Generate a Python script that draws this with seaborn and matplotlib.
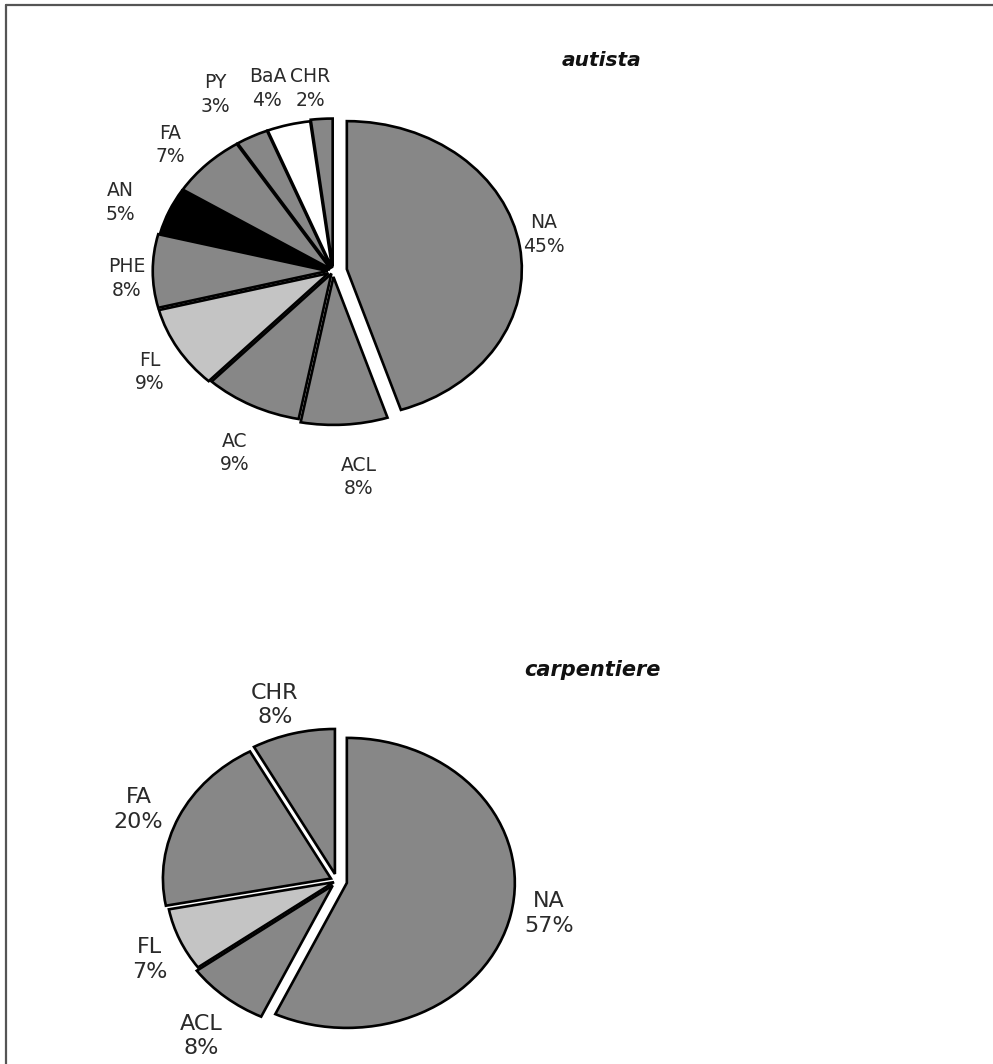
import math
import matplotlib
matplotlib.use("Agg")
import matplotlib.pyplot as plt
from matplotlib.lines import Line2D
import seaborn as sns

sns.set_theme(style="white")
plt.rcParams["font.family"] = ["DejaVu Sans"]

# PAH profile for the driver ("autista")
autista_labels = ["NA", "ACL", "AC", "FL", "PHE", "AN", "FA", "PY", "BaA", "CHR"]
autista_values = [45, 8, 9, 9, 8, 5, 7, 3, 4, 2]

# PAH profile for the carpenter ("carpentiere")
carp_labels = ["NA", "ACL", "FL", "FA", "CHR"]
carp_values = [57, 8, 7, 20, 8]

GRAY = "#878787"
LIGHT = "#c4c4c4"
fill = {"NA": GRAY, "ACL": GRAY, "AC": GRAY, "FL": LIGHT, "PHE": GRAY,
        "AN": "#000000", "FA": GRAY, "PY": GRAY, "BaA": "#ffffff", "CHR": GRAY}

W, H = 993, 1064
fig = plt.figure(figsize=(W / 100, H / 100), dpi=100)
fig.patch.set_facecolor("white")

LIM = 1.45


def pie_axes(cx, cy, rx, ry):
    """Axes whose unit radius spans rx by ry pixels around (cx, cy)."""
    w = 2 * LIM * rx
    h = 2 * LIM * ry
    left = (cx - w / 2) / W
    bottom = (H - (cy + h / 2)) / H
    return fig.add_axes([left, bottom, w / W, h / H])


def draw_pie(ax, labels, values, explode, fontsize, label_r, spacing, turn):
    pcts = [f"{lab}\n{v}%" for lab, v in zip(labels, values)]
    wedges, texts = ax.pie(
        values,
        labels=pcts,
        colors=[fill[l] for l in labels],
        explode=explode,
        startangle=90,
        counterclock=False,
        wedgeprops=dict(edgecolor="black", linewidth=1.9),
        textprops=dict(fontsize=fontsize, color="#2a2a2a"),
    )
    # place each label on its wedge's bisector at its own radial distance
    for w, t, r in zip(wedges, texts, label_r):
        mid = math.radians((w.theta1 + w.theta2) / 2 + turn)
        t.set_position((r * math.cos(mid), r * math.sin(mid)))
        t.set_horizontalalignment("center")
        t.set_verticalalignment("center")
        t.set_linespacing(spacing)
    ax.set_aspect("auto")
    ax.set_xlim(-LIM, LIM)
    ax.set_ylim(-LIM, LIM)
    ax.axis("off")
    return wedges


ax1 = pie_axes(333, 271, 175, 148)
draw_pie(ax1, autista_labels, autista_values,
         [0.08, 0.04, 0.02, 0.03, 0.03, 0.02, 0.02, 0.02, 0.02, 0.03],
         13.5,
         [1.23, 1.40, 1.35, 1.25, 1.18, 1.30, 1.26, 1.37, 1.29, 1.24],
         1.3, 2.5)

ax2 = pie_axes(337, 881, 168, 145)
draw_pie(ax2, carp_labels, carp_values,
         [0.06, 0.04, 0.02, 0.04, 0.05],
         16,
         [1.28, 1.34, 1.24, 1.28, 1.27],
         1.28, 2.5)

fig.text(602 / W, 1 - 60 / H, "autista", fontsize=14.5, fontweight="bold",
         fontstyle="italic", ha="center", va="center", color="#111111")
fig.text(592 / W, 1 - 670 / H, "carpentiere", fontsize=15, fontweight="bold",
         fontstyle="italic", ha="center", va="center", color="#111111")

# frame lines along the top and left edges
fig.add_artist(Line2D([6 / W, 1], [1 - 5 / H, 1 - 5 / H], color="#555555",
                      lw=1.6, transform=fig.transFigure))
fig.add_artist(Line2D([6 / W, 6 / W], [0, 1 - 5 / H], color="#555555",
                      lw=1.6, transform=fig.transFigure))

fig.savefig("out.png", dpi=100, facecolor="white")
